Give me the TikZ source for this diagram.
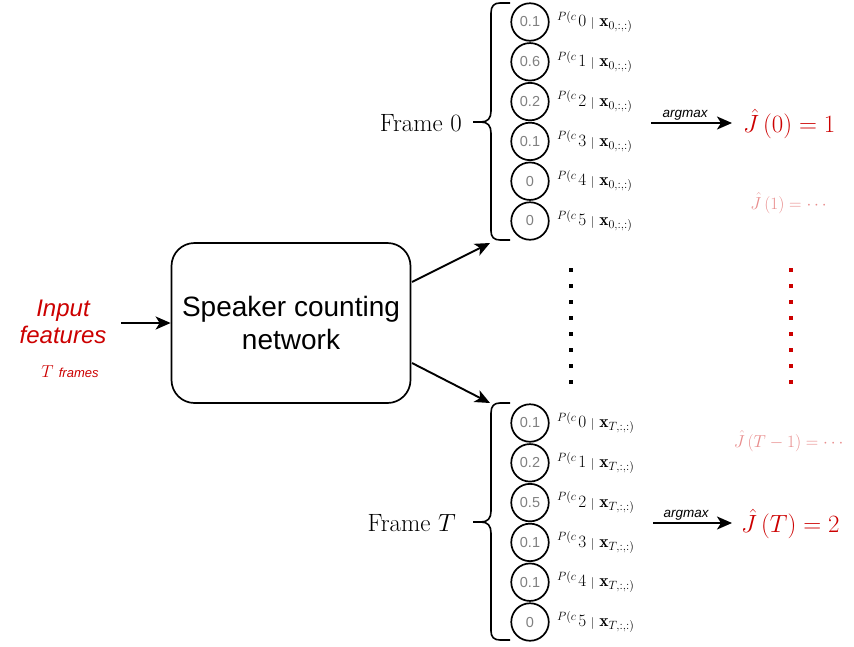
\documentclass[tikz,border=0pt]{standalone}
\usepackage{amsmath}
\usepackage{fontspec}
\newfontfamily\arial{Liberation Sans}
\usetikzlibrary{arrows.meta}
\definecolor{myred}{HTML}{CC0000}
\definecolor{mypink}{HTML}{E88C8C}
\definecolor{numgray}{HTML}{808080}
\newcommand{\plabtxt}[2]{$^{P(c}\mkern2mu #1\mkern5mu{\scriptstyle|}\mkern5mu\mathbf{x}_{#2,:,:)}$}
\tikzset{
  circ/.style={circle, draw, line width=1.7pt, minimum size=37.5pt, inner sep=0pt,
    font=\arial\fontsize{14.5}{14.5}\selectfont, text=numgray},
  plab/.style={anchor=west, inner sep=0pt, font=\fontsize{17.5}{17.5}\selectfont},
  arr/.style={line width=1.9pt, -{Stealth[length=15pt,width=13pt,inset=4pt]}},
  bracestyle/.style={line width=1.6pt},
  dotline/.style={line width=3.5pt, dash pattern=on 3.5pt off 12.5pt},
  netbox/.style={draw, line width=1.7pt, rounded corners=23pt, minimum width=239pt,
    minimum height=160pt, align=center, font=\arial\fontsize{28}{33}\selectfont},
  framelab/.style={anchor=east, inner sep=0pt, font=\fontsize{25}{25}\selectfont},
  bigj/.style={anchor=west, inner sep=0pt, text=myred, font=\fontsize{23}{23}\selectfont},
  smallj/.style={inner sep=0pt, text=mypink, font=\fontsize{17.5}{17.5}\selectfont},
  argm/.style={above, inner sep=2pt, pos=0.42, font=\arial\itshape\fontsize{13.5}{13.5}\selectfont}
}
\begin{document}
\begin{tikzpicture}[x=1pt,y=-1pt]
\useasboundingbox (0,0) rectangle (854,646);

% input
\node[align=center, text=myred, font=\arial\itshape\fontsize{24}{27}\selectfont] (inp) at (63,322) {Input\\features};
\node[text=myred, inner sep=0pt] (tfr) at (70,372) {\fontsize{17}{17}\selectfont$T$\ \arial\itshape\fontsize{13}{13}\selectfont frames};

% network box
\node[netbox] (net) at (291,323) {Speaker counting\\network};
\coordinate (ins) at (121,323);
\draw[arr] (ins) -- (net.west);

\coordinate (s0) at (412,282);
\coordinate (e0) at (490,243);
\coordinate (s1) at (412,363);
\coordinate (e1) at (490,403);
\draw[arr] (s0) -- (e0);
\draw[arr] (s1) -- (e1);

% braces
\foreach \dy in {0,400}{
  \draw[bracestyle] (510,{3+\dy}) -- (500,{3+\dy}) .. controls (494,{3+\dy}) and (491,{6+\dy}) .. (491,{13+\dy})
     -- (491,{111+\dy}) .. controls (491,{118+\dy}) and (488,{122+\dy}) .. (481,{122+\dy}) -- (473,{122+\dy});
  \draw[bracestyle] (481,{122+\dy}) .. controls (488,{122+\dy}) and (491,{126+\dy}) .. (491,{133+\dy})
     -- (491,{231+\dy}) .. controls (491,{237+\dy}) and (494,{240+\dy}) .. (500,{240+\dy}) -- (510,{240+\dy});
}

\node[framelab] (f0) at (462,123) {Frame $0$};
\node[framelab] (fT) at (456,523) {Frame $T$};

% circles frame 0
\foreach \v [count=\i from 0] in {0.1,0.6,0.2,0.1,0,0}{
  \node[circ] (a\i) at (530,{22+39.8*\i}) {\v};
  \node[plab] (pa\i) at (557,{22+39.8*\i}) {\plabtxt{\i}{0}};
}
% circles frame T
\foreach \v [count=\i from 0] in {0.1,0.2,0.5,0.1,0.1,0}{
  \node[circ] (b\i) at (530,{423+39.8*\i}) {\v};
  \node[plab] (pb\i) at (557,{423+39.8*\i}) {\plabtxt{\i}{T}};
}

% dots
\coordinate (d0t) at (571,268);
\coordinate (d0b) at (571,386);
\draw[dotline] (d0t) -- (d0b);
\coordinate (d1t) at (791,268);
\coordinate (d1b) at (791,386);
\draw[dotline, myred] (d1t) -- (d1b);

% outputs
\node[bigj] (J0) at (743,124) {$\hat{J}\,(0)=1$};
\node[bigj] (JT) at (741,524) {$\hat{J}\,(T)=2$};
\node[smallj] (J1) at (790,203) {$\hat{J}\,(1)=\cdots$};
\node[smallj] (JT1) at (790,441) {$\hat{J}\,(T-1)=\cdots$};

\coordinate (g0) at (651,123);
\coordinate (g1) at (653,523);
\draw[arr] (g0) -- node[argm] {argmax} ([xshift=-11pt]J0.west |- g0);
\draw[arr] (g1) -- node[argm] {argmax} ([xshift=-9pt]JT.west |- g1);
\end{tikzpicture}
\end{document}
